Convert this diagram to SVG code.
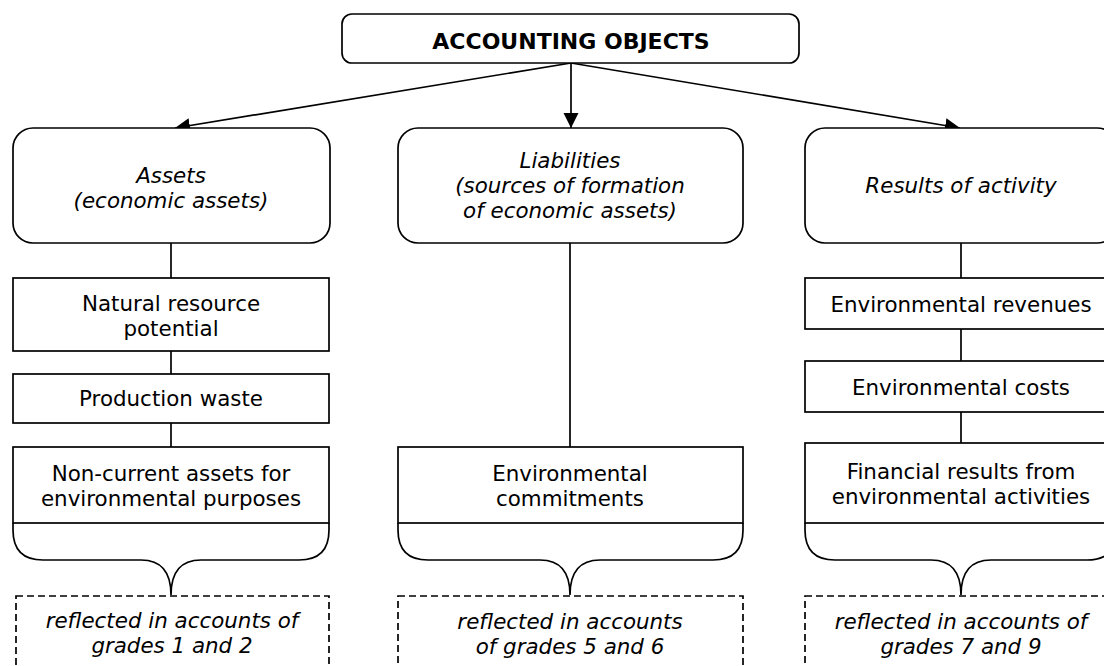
<svg xmlns="http://www.w3.org/2000/svg" width="1104" height="666" viewBox="0 0 1104 666">
<defs>
<style>
.box{fill:#fff;stroke:#000;stroke-width:1.7}
.dash{fill:#fff;stroke:#000;stroke-width:1.7;stroke-dasharray:7 4}
.ln{fill:none;stroke:#000;stroke-width:1.7}
text{font-family:"DejaVu Sans","Verdana",sans-serif;font-size:21.4px;fill:#000;text-anchor:middle}
.it{font-style:italic}
.b{font-weight:bold;font-size:22px}
</style>
<marker id="ah" markerUnits="userSpaceOnUse" markerWidth="16" markerHeight="16" refX="15" refY="7.5" orient="auto">
<path d="M0,0 L15,7.5 L0,15 z" fill="#000"/>
</marker>
</defs>
<rect width="1104" height="666" fill="#fff"/>
<g id="connectors">
<line class="ln" x1="571" y1="63" x2="175" y2="128" marker-end="url(#ah)"/>
<line class="ln" x1="571" y1="63" x2="571" y2="128" marker-end="url(#ah)"/>
<line class="ln" x1="571" y1="63" x2="960" y2="128" marker-end="url(#ah)"/>
<line class="ln" x1="171" y1="243" x2="171" y2="278"/>
<line class="ln" x1="171" y1="351" x2="171" y2="374"/>
<line class="ln" x1="171" y1="423" x2="171" y2="447"/>
<line class="ln" x1="570" y1="243" x2="570" y2="447"/>
<line class="ln" x1="961" y1="243" x2="961" y2="278"/>
<line class="ln" x1="961" y1="329" x2="961" y2="361"/>
<line class="ln" x1="961" y1="412" x2="961" y2="443"/>
<path class="ln" d="M13,523 L13,530 Q13,560 43,560 L141,560 Q171,560 171,595 Q171,560 201,560 L299,560 Q329,560 329,530 L329,523"/>
<path class="ln" d="M398,523 L398,530 Q398,560 428,560 L540,560 Q570,560 570,595 Q570,560 600,560 L713,560 Q743,560 743,530 L743,523"/>
<path class="ln" d="M805,523 L805,530 Q805,560 835,560 L931,560 Q961,560 961,595 Q961,560 991,560 L1087,560 Q1117,560 1117,530 L1117,523"/>
</g>
<g id="top">
<rect class="box" x="342" y="14" width="457" height="49" rx="10"/>
<text class="b" x="571" y="49">ACCOUNTING OBJECTS</text>
</g>
<g id="assets">
<rect class="box" x="13" y="128" width="317" height="115" rx="20"/>
<text class="it" x="171" y="183">Assets</text>
<text class="it" x="171" y="208">(economic assets)</text>
</g>
<g id="liabilities">
<rect class="box" x="398" y="128" width="345" height="115" rx="20"/>
<text class="it" x="570" y="168">Liabilities</text>
<text class="it" x="570" y="193">(sources of formation</text>
<text class="it" x="570" y="218">of economic assets)</text>
</g>
<g id="results">
<rect class="box" x="805" y="128" width="312" height="115" rx="20"/>
<text class="it" x="961" y="193">Results of activity</text>
</g>
<g id="natural">
<rect class="box" x="13" y="278" width="316" height="73"/>
<text x="171" y="311">Natural resource</text>
<text x="171" y="336">potential</text>
</g>
<g id="waste">
<rect class="box" x="13" y="374" width="316" height="49"/>
<text x="171" y="406">Production waste</text>
</g>
<g id="noncurrent">
<rect class="box" x="13" y="447" width="316" height="76"/>
<text x="171" y="481">Non-current assets for</text>
<text x="171" y="506">environmental purposes</text>
</g>
<g id="commitments">
<rect class="box" x="398" y="447" width="345" height="76"/>
<text x="570" y="481">Environmental</text>
<text x="570" y="506">commitments</text>
</g>
<g id="revenues">
<rect class="box" x="805" y="278" width="312" height="51"/>
<text x="961" y="312">Environmental revenues</text>
</g>
<g id="costs">
<rect class="box" x="805" y="361" width="312" height="51"/>
<text x="961" y="395">Environmental costs</text>
</g>
<g id="financial">
<rect class="box" x="805" y="443" width="312" height="80"/>
<text x="961" y="479">Financial results from</text>
<text x="961" y="504">environmental activities</text>
</g>
<g id="grades12">
<rect class="dash" x="16" y="596" width="313" height="90"/>
<text class="it" x="172" y="628">reflected in accounts of</text>
<text class="it" x="172" y="653">grades 1 and 2</text>
</g>
<g id="grades56">
<rect class="dash" x="398" y="596" width="345" height="90"/>
<text class="it" x="570" y="629">reflected in accounts</text>
<text class="it" x="570" y="654">of grades 5 and 6</text>
</g>
<g id="grades79">
<rect class="dash" x="805" y="596" width="312" height="90"/>
<text class="it" x="961" y="629">reflected in accounts of</text>
<text class="it" x="961" y="654">grades 7 and 9</text>
</g>
</svg>
